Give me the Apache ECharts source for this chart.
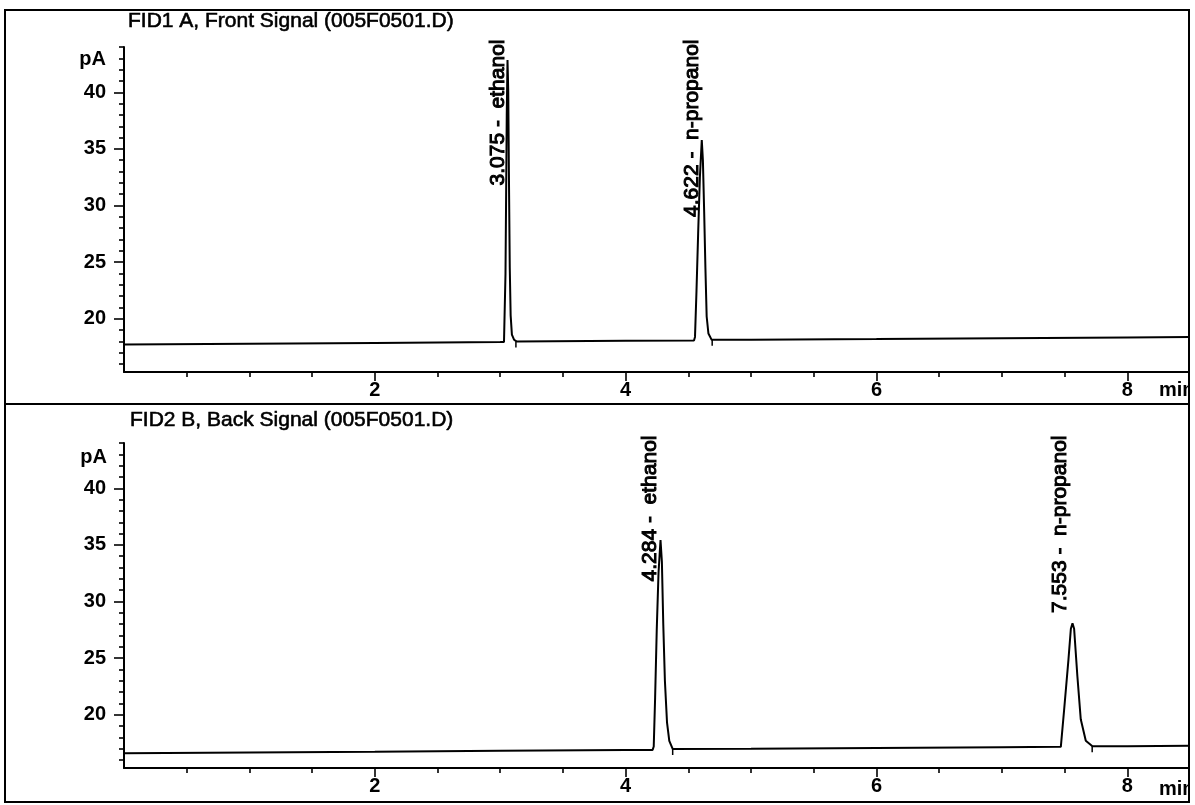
<!DOCTYPE html>
<html><head><meta charset="utf-8">
<script src="https://cdn.jsdelivr.net/npm/echarts@6/dist/echarts.min.js"></script>
<style>html,body{margin:0;padding:0;background:#fff}#c{width:1195px;height:805px}</style>
</head><body><div id="c"></div>
<script>
// ---------- data ----------
const panelTitles = ['FID1 A, Front Signal (005F0501.D)', 'FID2 B, Back Signal (005F0501.D)'];
const yUnit = 'pA';
const xUnit = 'min';
const xMajorTicks = [2, 4, 6, 8];
const xMinorTicks = [0.5, 1, 1.5, 2.5, 3, 3.5, 4.5, 5, 5.5, 6.5, 7, 7.5];
const yMajorTicks = [20, 25, 30, 35, 40];
const yMinorTicks = [16, 17, 18, 19, 21, 22, 23, 24, 26, 27, 28, 29, 31, 32, 33, 34, 36, 37, 38, 39, 41, 42, 43, 44];

// FID1 A front signal trace [time (min), signal (pA)]
const frontTrace = [
  [0, 17.72], [1, 17.80], [2, 17.87], [3, 17.94],
  [3.030, 17.95], [3.037, 18.1], [3.042, 24], [3.047, 31], [3.052, 38], [3.058, 42.85],
  [3.064, 40], [3.069, 33], [3.076, 24.5], [3.083, 20.3], [3.093, 18.6], [3.110, 18.15], [3.130, 18.0],
  [4, 18.06],
  [4.545, 18.08], [4.553, 18.4], [4.565, 22.5], [4.578, 27.5], [4.592, 32.5], [4.607, 35.78],
  [4.616, 34], [4.626, 29.5], [4.636, 24.5], [4.646, 20.2], [4.660, 18.7], [4.686, 18.14],
  [5, 18.15], [6, 18.21], [7, 18.28], [8, 18.34], [8.5, 18.38]
];
// FID2 B back signal trace [time (min), signal (pA)]
const backTrace = [
  [0, 16.60], [1, 16.67], [2, 16.74], [3, 16.82], [4, 16.89],
  [4.215, 16.90], [4.224, 17.2], [4.235, 21.5], [4.248, 27.5], [4.262, 32.5], [4.278, 35.43],
  [4.289, 33.5], [4.300, 28], [4.313, 23], [4.330, 19.3], [4.348, 17.7], [4.375, 16.98],
  [5, 17.0], [6, 17.07], [7, 17.14],
  [7.470, 17.17], [7.496, 20.4], [7.531, 24.9], [7.550, 27.6], [7.563, 28.07], [7.576, 27.6],
  [7.602, 23.4], [7.629, 19.6], [7.669, 17.7], [7.722, 17.22],
  [8, 17.23], [8.5, 17.26]
];
const frontPeakTimes = [3.075, 4.622];
const frontPeakNames = ['ethanol', 'n-propanol'];
const backPeakTimes = [4.284, 7.553];
const backPeakNames = ['ethanol', 'n-propanol'];
// integration end markers [time, baseline pA]
const frontPeakEnds = [[3.125, 18.0], [4.69, 18.14]];
const backPeakEnds = [[4.375, 16.98], [7.72, 17.22]];

// ---------- chart ----------
const X_MIN = 0, X_MAX = 8.5, Y_MIN = 15.3, Y_MAX = 44;
const FONT = '"Liberation Sans", Arial, sans-serif';
const grids = [
  { left: 124, width: 1066, top: 47, height: 325 },
  { left: 124, width: 1066, top: 443, height: 325 }
];

function xAxes(gi) {
  return [
    {
      type: 'value', gridIndex: gi, min: X_MIN, max: X_MAX, position: 'bottom',
      axisLine: { show: true, lineStyle: { color: '#000', width: 2 } },
      axisTick: { show: true, customValues: xMajorTicks, length: 9, lineStyle: { color: '#000', width: 1.6 } },
      axisLabel: { show: true, customValues: xMajorTicks, margin: 8, color: '#000', fontSize: 20, fontWeight: 'bold', fontFamily: FONT },
      splitLine: { show: false }
    },
    {
      type: 'value', gridIndex: gi, min: X_MIN, max: X_MAX, position: 'bottom',
      axisLine: { show: false },
      axisTick: { show: true, customValues: xMinorTicks, length: 5, lineStyle: { color: '#000', width: 1.6 } },
      axisLabel: { show: false },
      splitLine: { show: false }
    }
  ];
}
function yAxes(gi) {
  return [
    {
      type: 'value', gridIndex: gi, min: Y_MIN, max: Y_MAX, position: 'left',
      axisLine: { show: true, lineStyle: { color: '#000', width: 2 } },
      axisTick: { show: true, customValues: yMajorTicks, length: 10, lineStyle: { color: '#000', width: 1.6 } },
      axisLabel: { show: true, customValues: yMajorTicks, margin: 18, color: '#000', fontSize: 20, fontWeight: 'bold', fontFamily: FONT },
      splitLine: { show: false }
    },
    {
      type: 'value', gridIndex: gi, min: Y_MIN, max: Y_MAX, position: 'left',
      axisLine: { show: false },
      axisTick: { show: true, customValues: yMinorTicks, length: 5, lineStyle: { color: '#000', width: 1.6 } },
      axisLabel: { show: false },
      splitLine: { show: false }
    }
  ];
}

function traceSeries(data, axisIdx) {
  return {
    type: 'line', xAxisIndex: axisIdx, yAxisIndex: axisIdx, data: data,
    showSymbol: false, symbol: 'none', smooth: false, clip: true,
    lineStyle: { color: '#000', width: 2 }, silent: true
  };
}
function labelSeries(times, names, axisIdx) {
  return {
    type: 'scatter', xAxisIndex: axisIdx, yAxisIndex: axisIdx, symbolSize: 1, silent: true,
    itemStyle: { color: 'rgba(0,0,0,0)' },
    data: times.map((t, i) => ({ value: [t, Y_MAX], name: names[i] })),
    label: {
      show: true, rotate: 90, position: [-11, -7], align: 'right', verticalAlign: 'middle',
      formatter: p => p.value[0].toFixed(3) + ' -  ' + p.name,
      color: '#000', opacity: 1, fontSize: 21, fontFamily: FONT, textBorderColor: '#000', textBorderWidth: 1
    }
  };
}
function endMarkSeries(ends, axisIdx) {
  return {
    type: 'custom', xAxisIndex: axisIdx, yAxisIndex: axisIdx, silent: true, data: ends,
    renderItem: (params, api) => {
      const p = api.coord([api.value(0), api.value(1)]);
      return { type: 'line', shape: { x1: p[0], y1: p[1], x2: p[0], y2: p[1] + 6 }, style: { stroke: '#000', lineWidth: 1.5 } };
    }
  };
}

const chart = echarts.init(document.getElementById('c'), null, { renderer: 'canvas' });
const titleFont = '21px ' + FONT;
const boldFont = 'bold 20px ' + FONT;
chart.setOption({
  animation: false,
  backgroundColor: '#fff',
  grid: grids,
  xAxis: [...xAxes(0), ...xAxes(1)],
  yAxis: [...yAxes(0), ...yAxes(1)],
  series: [
    traceSeries(frontTrace, 0),
    traceSeries(backTrace, 2),
    labelSeries(frontPeakTimes, frontPeakNames, 0),
    labelSeries(backPeakTimes, backPeakNames, 2),
    endMarkSeries(frontPeakEnds, 0),
    endMarkSeries(backPeakEnds, 2)
  ],
  graphic: [
    { type: 'rect', shape: { x: 5, y: 10, width: 1184, height: 792 }, style: { fill: 'none', stroke: '#000', lineWidth: 2 }, z: 10 },
    { type: 'line', shape: { x1: 5, y1: 404, x2: 1189, y2: 404 }, style: { stroke: '#000', lineWidth: 2 }, z: 10 },
    { type: 'text', x: 128, y: 21, style: { text: panelTitles[0], font: titleFont, fill: '#000', stroke: '#000', lineWidth: 0.6, align: 'left', verticalAlign: 'middle' }, z: 10 },
    { type: 'text', x: 130, y: 420, style: { text: panelTitles[1], font: titleFont, fill: '#000', stroke: '#000', lineWidth: 0.6, align: 'left', verticalAlign: 'middle' }, z: 10 },
    { type: 'text', x: 106, y: 59, style: { text: yUnit, font: boldFont, fill: '#000', align: 'right', verticalAlign: 'middle' }, z: 10 },
    { type: 'text', x: 107, y: 457, style: { text: yUnit, font: boldFont, fill: '#000', align: 'right', verticalAlign: 'middle' }, z: 10 },
    { type: 'text', x: 1159, y: 390, style: { text: xUnit, font: boldFont, fill: '#000', align: 'left', verticalAlign: 'middle' }, z: 10 },
    { type: 'text', x: 1159, y: 789, style: { text: xUnit, font: boldFont, fill: '#000', align: 'left', verticalAlign: 'middle' }, z: 10 },
    { type: 'rect', shape: { x: 1190, y: 0, width: 5, height: 805 }, style: { fill: '#fff' }, z: 11 }
  ]
});
</script>
</body></html>
